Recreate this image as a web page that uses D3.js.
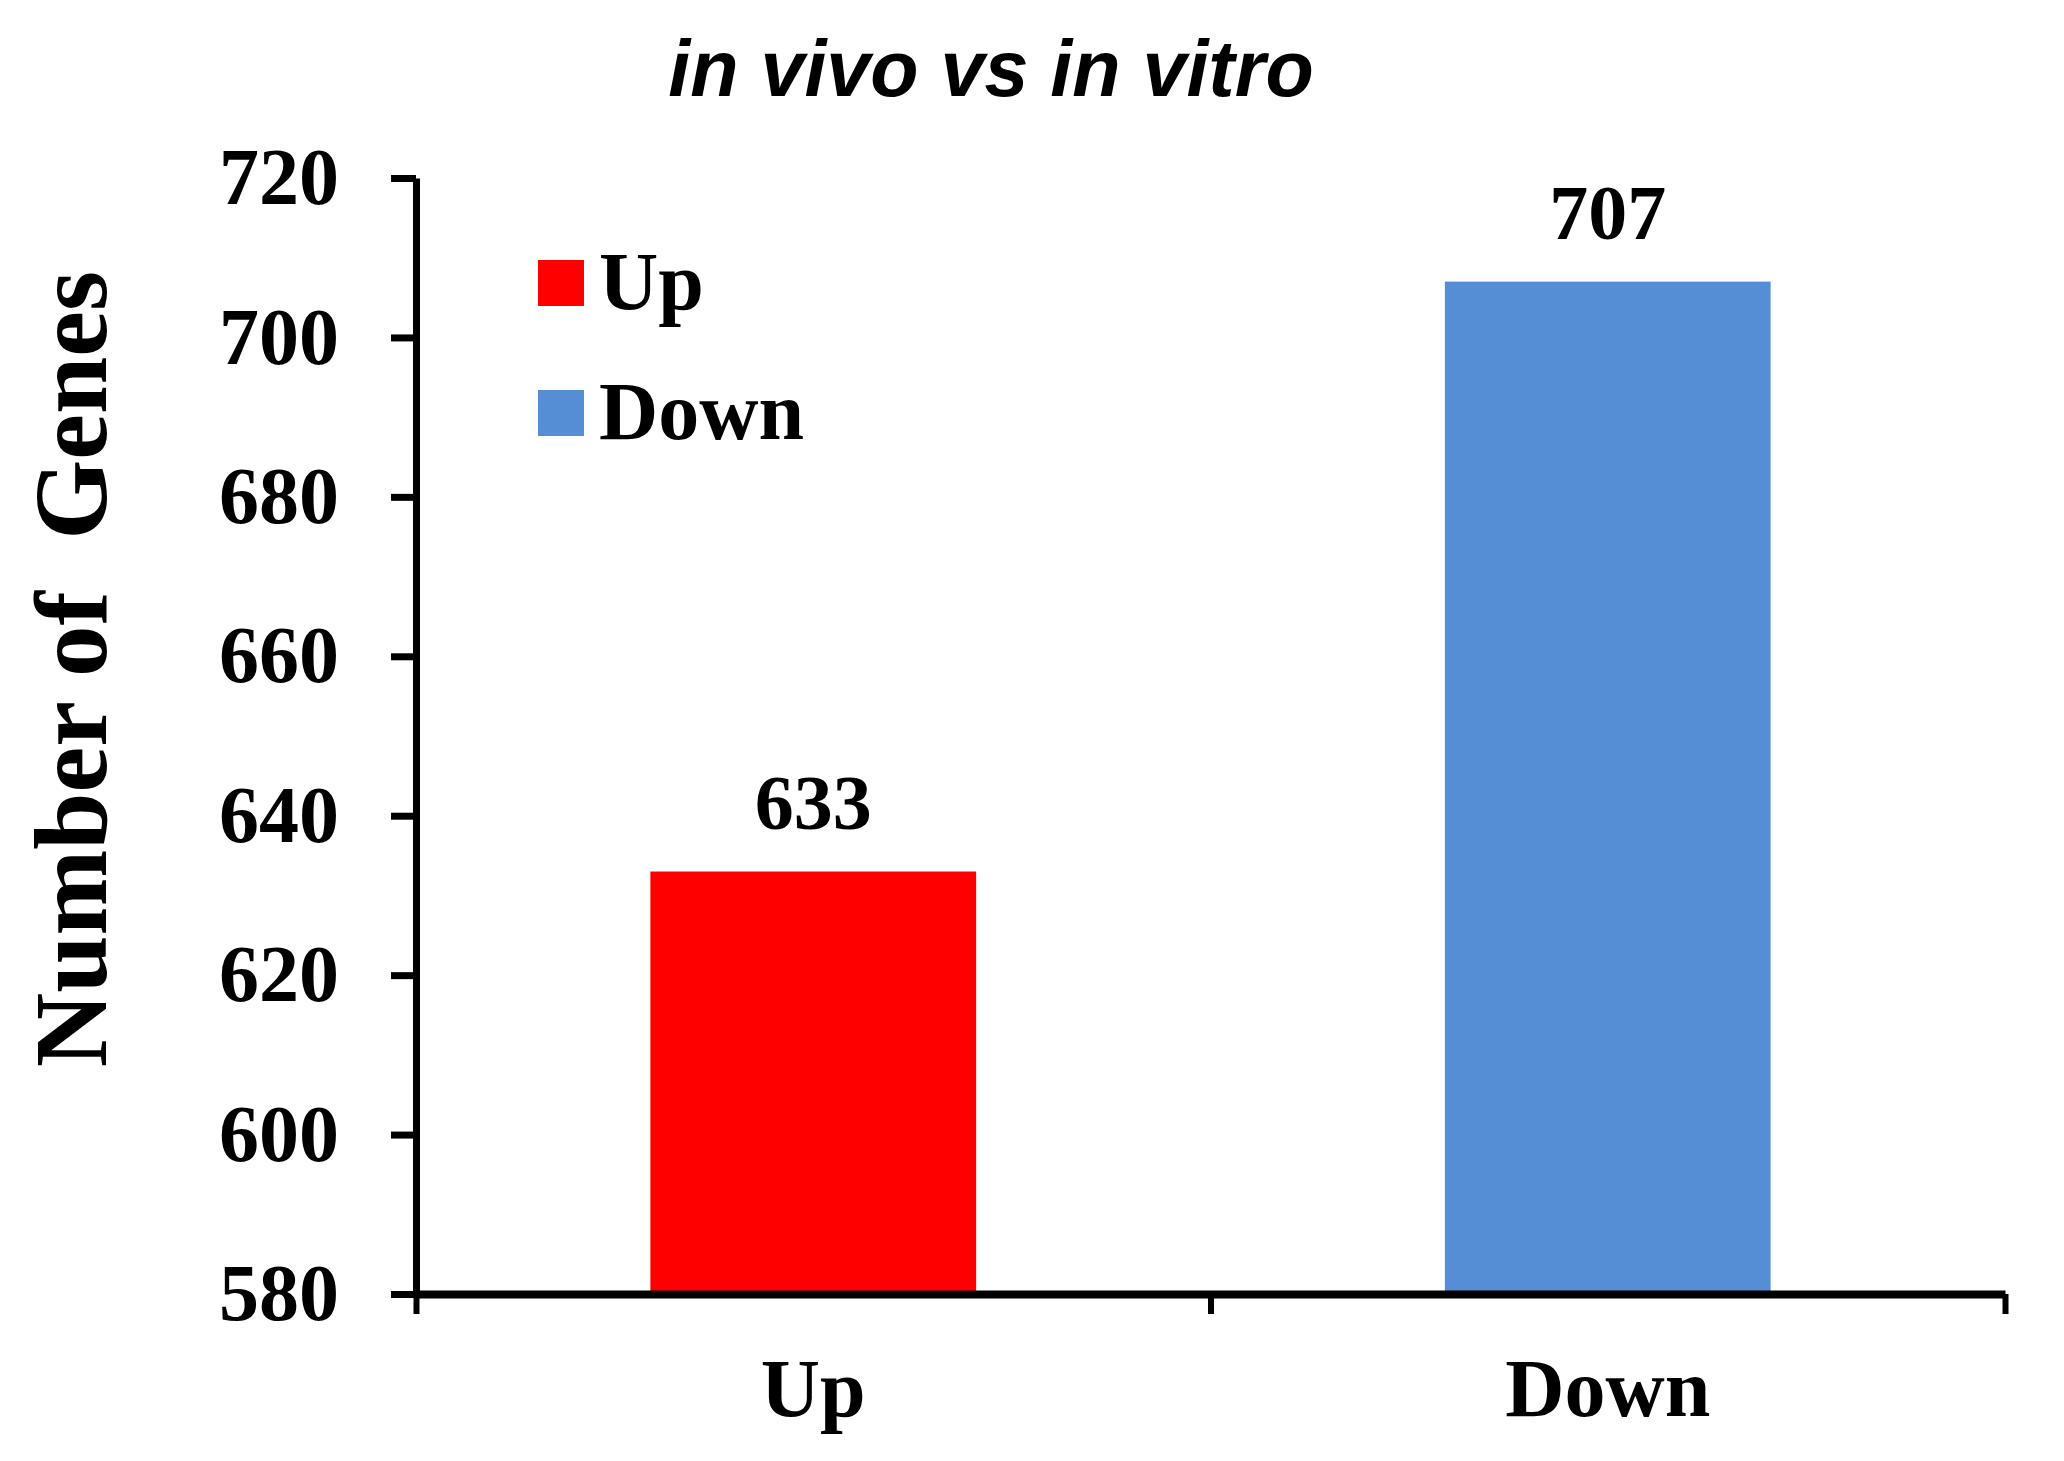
<!DOCTYPE html>
<html>
<head>
<meta charset="utf-8">
<script src="https://cdn.jsdelivr.net/npm/d3@7"></script>
<style>
  body { margin: 0; background: #fff; }
  svg { display: block; }
</style>
</head>
<body>
<script>
// Données
const categories = ['Up', 'Down'];
const values = [633, 707];
const colors = ['#ff0000', '#558ed5'];
const yTicks = [580, 600, 620, 640, 660, 680, 700, 720];

const W = 2064, H = 1461;
const margin = { top: 178, right: 59, bottom: 167, left: 416 };
const width = W - margin.left - margin.right,
    height = H - margin.top - margin.bottom;

const serif = '"Liberation Serif", "Times New Roman", serif';
const sans = '"Liberation Sans", Arial, sans-serif';

const svg = d3.select('body')
    .append('svg')
    .attr('width', W)
    .attr('height', H);

const g = svg.append('g')
    .attr('transform', `translate(${margin.left}, ${margin.top})`);

// Échelles
const x = d3.scaleBand()
    .domain(categories)
    .range([0, width])
    .paddingInner(0.59)
    .paddingOuter(0.295);

const xEdges = d3.scaleLinear()
    .domain([0, categories.length])
    .range([0, width]);

const y = d3.scaleLinear()
    .domain([580, 720])
    .range([height, 0]);

// Barres
g.selectAll('rect.bar')
    .data(values)
    .join('rect')
    .attr('class', 'bar')
    .attr('x', (d, i) => x(categories[i]))
    .attr('width', x.bandwidth())
    .attr('y', d => y(d))
    .attr('height', d => height - y(d))
    .attr('fill', (d, i) => colors[i]);

// Étiquettes de valeur
g.selectAll('text.val')
    .data(values)
    .join('text')
    .attr('class', 'val')
    .attr('x', (d, i) => x(categories[i]) + x.bandwidth() / 2)
    .attr('y', d => y(d) - 43)
    .attr('text-anchor', 'middle')
    .style('font-family', serif)
    .style('font-weight', 'bold')
    .style('font-size', '78px')
    .text(d => d);

// Axe Y
const yAxis = g.append('g')
    .call(d3.axisLeft(y).tickValues(yTicks).tickSize(25).tickSizeOuter(0).tickPadding(52));

yAxis.select('.domain').attr('stroke', '#000').attr('stroke-width', 7);
yAxis.selectAll('.tick line').attr('stroke', '#000').attr('stroke-width', 7);
yAxis.selectAll('.tick text')
    .style('font-family', serif)
    .style('font-weight', 'bold')
    .style('font-size', '80px')
    .attr('fill', '#000');

// Axe X : repères aux bords des catégories
const xTickAxis = g.append('g')
    .attr('transform', `translate(0, ${height})`)
    .call(d3.axisBottom(xEdges).tickValues([0, 1, 2]).tickSize(20).tickSizeOuter(0).tickFormat(''));

xTickAxis.select('.domain').attr('stroke', '#000').attr('stroke-width', 8);
xTickAxis.selectAll('.tick line').attr('stroke', '#000').attr('stroke-width', 6);

// Axe X : libellés
const xAxis = g.append('g')
    .attr('transform', `translate(0, ${height})`)
    .call(d3.axisBottom(x).tickSize(0).tickPadding(64));

xAxis.select('.domain').remove();
xAxis.selectAll('.tick text')
    .style('font-family', serif)
    .style('font-weight', 'bold')
    .style('font-size', '82px')
    .attr('fill', '#000');

// Titre de l'axe Y
svg.append('text')
    .attr('transform', 'rotate(-90)')
    .attr('x', -669)
    .attr('y', 106)
    .attr('text-anchor', 'middle')
    .style('font-family', serif)
    .style('font-weight', 'bold')
    .style('font-size', '103px')
    .style('white-space', 'pre')
    .text('Number of  Genes');

// Titre
svg.append('text')
    .attr('x', 991)
    .attr('y', 96)
    .attr('text-anchor', 'middle')
    .style('font-family', sans)
    .style('font-weight', 'bold')
    .style('font-style', 'italic')
    .style('font-size', '79px')
    .text('in vivo vs in vitro');

// Légende
const legend = svg.append('g')
    .attr('transform', 'translate(538, 260)');

const legendItems = legend.selectAll('g')
    .data(categories)
    .join('g')
    .attr('transform', (d, i) => `translate(0, ${i * 130})`);

legendItems.append('rect')
    .attr('width', 46)
    .attr('height', 46)
    .attr('fill', (d, i) => colors[i]);

legendItems.append('text')
    .attr('x', 61)
    .attr('y', 49)
    .style('font-family', serif)
    .style('font-weight', 'bold')
    .style('font-size', '82px')
    .text(d => d);
</script>
</body>
</html>
